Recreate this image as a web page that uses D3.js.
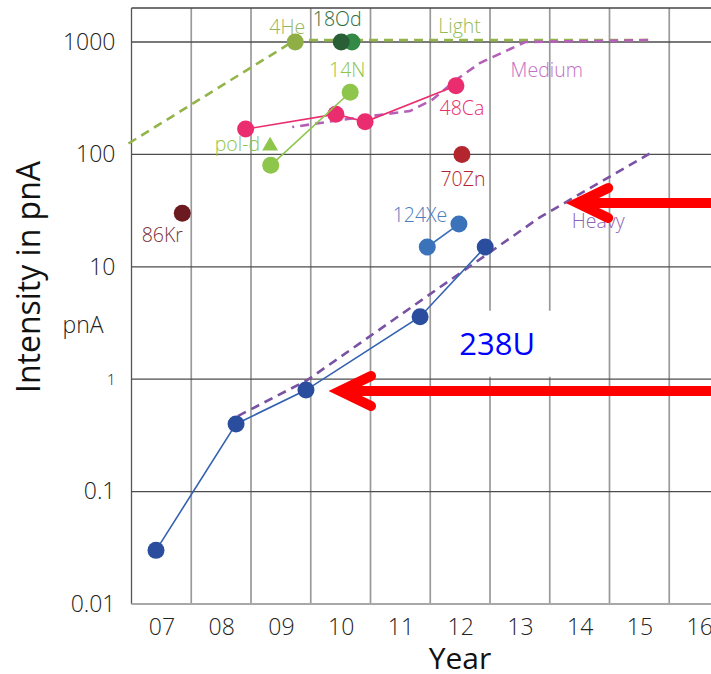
<!DOCTYPE html>
<html><head><meta charset="utf-8">
<script src="https://cdn.jsdelivr.net/npm/d3@7"></script>
<style>
body{margin:0;background:#fff;}
svg{display:block;font-family:"Open Sans",sans-serif;}
</style></head><body>
<svg id="chart" width="711" height="674"></svg>
<script>
// x is a year index: 7 = start of 2007, the label sits in the middle of its cell
const yearTicks=["07","08","09","10","11","12","13","14","15","16"];
const decadeTicks=[0.01,0.1,1,10,100,1000];
const decadeLabels=["0.01","0.1","1","10","100","1000"];

const u238=[[7.41,0.03],[8.75,0.4],[9.92,0.8],[11.83,3.6],[12.92,15]];
const xe124=[[11.95,15],[12.48,24]];
const ca48=[[8.91,168],[10.42,228],[10.91,195],[12.43,408]];
const n14=[[9.33,80],[10.66,357]];
const pold=[[9.32,119]];
const he4=[[9.74,1000]];
const o18d=[[10.69,1000],[10.51,1000]];
const zn70=[[12.53,100]];
const kr86=[[7.85,30]];

const lightLine=[[6.95,125],[9.74,1040],[15.71,1040]];
const mediumLine=[[9.69,175],[10.49,202],[11.66,243],[12.03,305],[12.43,459],[12.83,650],[13.59,1000],[15.71,1040]];
const heavyLine=[[8.78,0.47],[9.94,0.98],[13.84,27.7],[15.69,103]];

const arrowTargets=[[14.46,37],[10.49,0.785]];

const W=711,plotLeft=131.5,plotRight=729,plotTop=8,plotBottom=604;
const x=d3.scaleLinear().domain([7,17]).range([plotLeft,plotRight]);
const y=d3.scaleLog().domain([0.01,1000]).range([plotBottom,42]);
const svg=d3.select("#chart");

// grid
const grid=svg.append("g");
grid.selectAll("line.v").data(d3.range(8,17)).join("line")
  .attr("x1",d=>x(d)).attr("x2",d=>x(d)).attr("y1",plotTop).attr("y2",plotBottom)
  .attr("stroke","#999").attr("stroke-width",1.7);
grid.selectAll("line.h").data(decadeTicks.slice(1)).join("line")
  .attr("x1",plotLeft).attr("x2",W).attr("y1",d=>y(d)).attr("y2",d=>y(d))
  .attr("stroke","#4d4d4d").attr("stroke-width",1.3);
grid.append("line").attr("x1",plotLeft).attr("x2",W).attr("y1",plotTop).attr("y2",plotTop)
  .attr("stroke","#444").attr("stroke-width",1.3);
grid.append("line").attr("x1",plotLeft).attr("x2",plotLeft).attr("y1",plotTop).attr("y2",plotBottom)
  .attr("stroke","#555").attr("stroke-width",1.3);
grid.append("line").attr("x1",plotLeft).attr("x2",W).attr("y1",plotBottom).attr("y2",plotBottom)
  .attr("stroke","#a8a8a8").attr("stroke-width",2);

// white box behind the 238U caption
const u238Label=[13.12,1.65];
svg.append("rect")
  .attr("x",x(u238Label[0])-59).attr("y",y(u238Label[1])-44)
  .attr("width",116).attr("height",66).attr("fill","#fff");

// axes
const xAxis=svg.append("g").attr("transform",`translate(0,${plotBottom})`)
  .call(d3.axisBottom(x).tickValues(d3.range(7.5,17,1)).tickFormat((d,i)=>yearTicks[i]).tickSize(0).tickPadding(15));
xAxis.select(".domain").remove();
xAxis.selectAll("text").attr("font-size",23).attr("font-family","Open Sans").attr("font-weight",300).attr("fill","#222");

const yAxis=svg.append("g").attr("transform",`translate(${plotLeft},0)`)
  .call(d3.axisLeft(y).tickValues(decadeTicks).tickFormat((d,i)=>decadeLabels[i]).tickSize(0).tickPadding(16));
yAxis.select(".domain").remove();
yAxis.selectAll("text").attr("font-size",d=>d===1?15:23).attr("font-family","Open Sans").attr("font-weight",300).attr("fill","#222");

svg.append("text").attr("x",83).attr("y",333).attr("text-anchor","middle")
  .attr("font-size",23).attr("font-weight",300).attr("fill","#222").text("pnA");
svg.append("text").attr("transform","translate(40,277) rotate(-90)")
  .attr("text-anchor","middle").attr("font-size",32).attr("fill","#111").text("Intensity in pnA");
svg.append("text").attr("x",460).attr("y",669).attr("text-anchor","middle")
  .attr("font-size",30).attr("fill","#111").text("Year");

// trend guides
const line=d3.line().x(d=>x(d[0])).y(d=>y(d[1]));
const guide=(data,color)=>svg.append("path").datum(data).attr("d",line)
  .attr("fill","none").attr("stroke",color).attr("stroke-width",2.6).attr("stroke-dasharray","9,6");
guide(lightLine,"#93b44a");
guide(mediumLine,"#b45fb8").attr("stroke-dashoffset",7);
guide(heavyLine,"#7a52a3");

// measured series
const series=[
  {data:u238,color:"#2a4d9e",lineColor:"#3462b0",joined:true},
  {data:xe124,color:"#3a73b9",lineColor:"#3a73b9",joined:true},
  {data:ca48,color:"#ea2d6e",lineColor:"#ea2d6e",joined:true},
  {data:n14,color:"#8dc64b",lineColor:"#8dc64b",joined:true},
  {data:he4,color:"#8fae45"},
  {data:o18d.slice(0,1),color:"#338a46"},
  {data:o18d.slice(1),color:"#2a5e36"},
  {data:zn70,color:"#b3262e"},
  {data:kr86,color:"#6b1a1f"}
];
series.forEach(s=>{
  if (s.joined) svg.append("path").datum(s.data).attr("d",line)
    .attr("fill","none").attr("stroke",s.lineColor).attr("stroke-width",1.6);
  svg.selectAll(null).data(s.data).join("circle")
    .attr("cx",d=>x(d[0])).attr("cy",d=>y(d[1])).attr("r",8.5).attr("fill",s.color);
});
svg.selectAll(null).data(pold).join("path")
  .attr("transform",d=>`translate(${x(d[0])},${y(d[1])})`)
  .attr("d",d3.symbol(d3.symbolTriangle,110)).attr("fill","#8dc64b");

// labels
const labels=[
  {at:he4[0],text:"4He",dx:-8,dy:-8,color:"#95b55a"},
  {at:o18d[1],text:"18Od",dx:-4,dy:-16,color:"#2e6b3c"},
  {at:n14[1],text:"14N",dx:-3,dy:-15,color:"#8dc64b"},
  {at:pold[0],text:"pol-d",dx:-10,dy:5,color:"#8dc64b",anchor:"end"},
  {at:ca48[3],text:"48Ca",dx:6,dy:29,color:"#ea2d6e"},
  {at:zn70[0],text:"70Zn",dx:1,dy:32,color:"#b3262e"},
  {at:kr86[0],text:"86Kr",dx:-20,dy:29,color:"#7a3035"},
  {at:xe124[1],text:"124Xe",dx:-39,dy:-2,color:"#4a7cc0"},
  {at:[12.49,1040],text:"Light",dx:0,dy:-7,color:"#95bb55"},
  {at:[13.95,490],text:"Medium",dx:0,dy:0,color:"#c46fc4"},
  {at:[14.81,22.2],text:"Heavy",dx:0,dy:0,color:"#8d63b6"}
];
svg.selectAll(null).data(labels).join("text")
  .attr("x",d=>x(d.at[0])+d.dx).attr("y",d=>y(d.at[1])+d.dy)
  .attr("text-anchor",d=>d.anchor||"middle")
  .attr("font-size",19.5).attr("font-weight",300)
  .attr("fill",d=>d.color).text(d=>d.text);

svg.append("text").attr("x",x(u238Label[0])).attr("y",y(u238Label[1]))
  .attr("text-anchor","middle").attr("font-size",31).attr("fill","#0000ff").text("238U");

// red arrows
const arrows=svg.append("g").attr("stroke","#ff0000").attr("stroke-width",10)
  .attr("stroke-linecap","round").attr("fill","none");
arrowTargets.forEach(t=>{
  const tx=x(t[0]),ty=y(t[1]);
  arrows.append("line").attr("x1",tx+4).attr("y1",ty).attr("x2",W+10).attr("y2",ty).attr("stroke-linecap","butt");
  arrows.append("path").attr("d",`M${tx+31},${ty-15}L${tx},${ty}L${tx+31},${ty+15}`).attr("stroke-linejoin","miter");
});
</script>
</body></html>
